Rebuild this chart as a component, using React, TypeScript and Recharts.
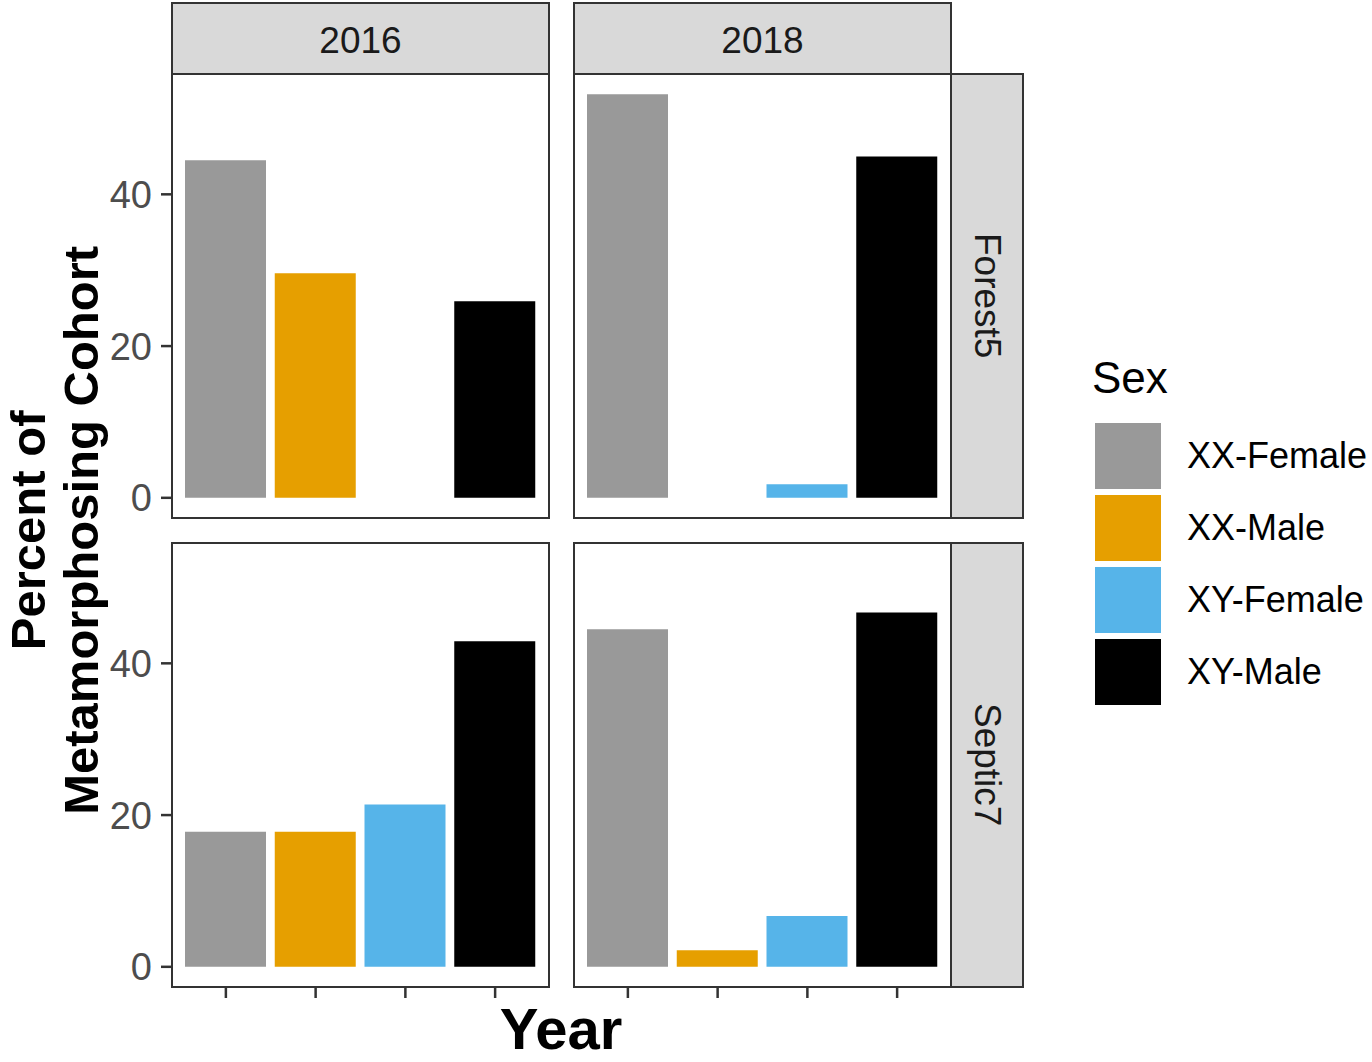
import React from "react";
import { BarChart, Bar, XAxis, YAxis, Cell } from "recharts";

const categories = ["XX-Female", "XX-Male", "XY-Female", "XY-Male"];
const colors = ["#999999", "#E69F00", "#56B4E9", "#000000"];

const years = ["2016", "2018"];
const sites = ["Forest5", "Septic7"];

const forest2016 = [44.5, 29.6, 0, 25.9];
const forest2018 = [53.2, 0, 1.8, 45.0];
const septic2016 = [17.8, 17.8, 21.4, 42.9];
const septic2018 = [44.5, 2.2, 6.7, 46.7];

const yTicks = [0, 20, 40];

const FONT = "'Liberation Sans', Arial, Helvetica, sans-serif";
const LINE = "#333333";
const BW = 2.5;

// panel geometry (ggplot facet grid)
const COL_X = [172, 574];
const ROW_Y = [74, 543];
const PW = 377;
const PH = 444;
const Y_AXIS_W = 80;
const X_AXIS_H = 22;

const toRows = (vals: number[]) =>
  categories.map((c, i) => ({ sex: c, pct: vals[i] }));

type PanelProps = {
  values: number[];
  col: number;
  row: number;
};

const Panel = ({ values, col, row }: PanelProps) => {
  const showY = col === 0;
  const showX = row === 1;
  const left = COL_X[col] - (showY ? Y_AXIS_W : 0);
  const top = ROW_Y[row];
  const width = PW + (showY ? Y_AXIS_W : 0);
  const height = PH + (showX ? X_AXIS_H : 0);
  return (
    <div style={{ position: "absolute", left, top }}>
      <BarChart
        width={width}
        height={height}
        data={toRows(values)}
        margin={{ top: 0, right: 0, bottom: 0, left: 0 }}
      >
        <XAxis
          dataKey="sex"
          hide={!showX}
          height={X_AXIS_H}
          padding={{ left: 9, right: 9 }}
          axisLine={false}
          tickSize={11}
          interval={0}
          tickLine={{ stroke: LINE, strokeWidth: BW }}
          tickFormatter={() => ""}
        />
        <YAxis
          hide={!showY}
          width={Y_AXIS_W}
          domain={[-2.66, 55.86]}
          ticks={yTicks}
          interval={0}
          axisLine={false}
          tickSize={11}
          tickMargin={9}
          tickLine={{ stroke: LINE, strokeWidth: BW }}
          tick={{ fill: "#4D4D4D", fontSize: 38, fontFamily: FONT }}
        />
        <Bar dataKey="pct" barSize={81} isAnimationActive={false}>
          {categories.map((c, i) => (
            <Cell key={c} fill={colors[i]} />
          ))}
        </Bar>
      </BarChart>
      <div
        style={{
          position: "absolute",
          left: (showY ? Y_AXIS_W : 0) - BW / 2,
          top: -BW / 2,
          width: PW + BW,
          height: PH + BW,
          border: `${BW}px solid ${LINE}`,
          boxSizing: "border-box",
          pointerEvents: "none",
        }}
      />
    </div>
  );
};

const stripStyle: React.CSSProperties = {
  position: "absolute",
  background: "#D9D9D9",
  border: `${BW}px solid ${LINE}`,
  boxSizing: "border-box",
  display: "flex",
  alignItems: "center",
  justifyContent: "center",
  color: "#1A1A1A",
  fontSize: 37,
  fontFamily: FONT,
};

const panelValues = [
  [forest2016, forest2018],
  [septic2016, septic2018],
];

// rotated y title line; `baseline` is the page x of the text baseline
const Y_TITLE_SIZE = 49;
const yTitleLine = (baseline: number): React.CSSProperties => {
  const h = Y_TITLE_SIZE * 1.117;
  const boxTop = baseline - Y_TITLE_SIZE * 0.905;
  const cx = boxTop + h / 2;
  return {
    position: "absolute",
    left: cx - 400,
    top: 530 - h / 2,
    width: 800,
    height: h,
    transform: "rotate(-90deg)",
    textAlign: "center",
    fontWeight: "bold",
    fontSize: Y_TITLE_SIZE,
    lineHeight: `${h}px`,
    color: "#000",
    whiteSpace: "nowrap",
  };
};

export default function App() {
  return (
    <div
      style={{
        position: "absolute",
        left: 0,
        top: 0,
        width: 1372,
        height: 1062,
        background: "#fff",
        fontFamily: FONT,
        overflow: "hidden",
      }}
    >
      {panelValues.map((rowVals, r) =>
        rowVals.map((vals, c) => (
          <Panel key={`${r}-${c}`} values={vals} col={c} row={r} />
        ))
      )}

      {years.map((y, c) => (
        <div
          key={y}
          style={{
            ...stripStyle,
            left: COL_X[c] - BW / 2,
            top: 3 - BW / 2,
            width: PW + BW,
            height: ROW_Y[0] - 3 + BW,
            paddingTop: 5,
          }}
        >
          {y}
        </div>
      ))}

      {sites.map((s, r) => (
        <div
          key={s}
          style={{
            ...stripStyle,
            left: COL_X[1] + PW - BW / 2,
            top: ROW_Y[r] - BW / 2,
            width: 72 + BW,
            height: PH + BW,
          }}
        >
          <span style={{ writingMode: "vertical-rl" }}>{s}</span>
        </div>
      ))}

      {/* y title */}
      <div style={yTitleLine(45)}>Percent of</div>
      <div style={yTitleLine(98)}>Metamorphosing Cohort</div>

      {/* x title */}
      <div
        style={{
          position: "absolute",
          left: 561 - 200,
          top: 1049 - 58 * 0.905,
          width: 400,
          textAlign: "center",
          fontWeight: "bold",
          fontSize: 58,
          lineHeight: `${58 * 1.117}px`,
          color: "#000",
        }}
      >
        Year
      </div>

      {/* legend */}
      <div
        style={{
          position: "absolute",
          left: 1092,
          top: 352,
          fontSize: 44,
          lineHeight: "52px",
          color: "#000",
        }}
      >
        Sex
      </div>
      {categories.map((c, i) => (
        <React.Fragment key={c}>
          <div
            style={{
              position: "absolute",
              left: 1095,
              top: 423 + i * 72,
              width: 66,
              height: 66,
              background: colors[i],
            }}
          />
          <div
            style={{
              position: "absolute",
              left: 1187,
              top: 423 + i * 72,
              height: 66,
              display: "flex",
              alignItems: "center",
              fontSize: 36,
              color: "#000",
              whiteSpace: "nowrap",
            }}
          >
            {c}
          </div>
        </React.Fragment>
      ))}
    </div>
  );
}
